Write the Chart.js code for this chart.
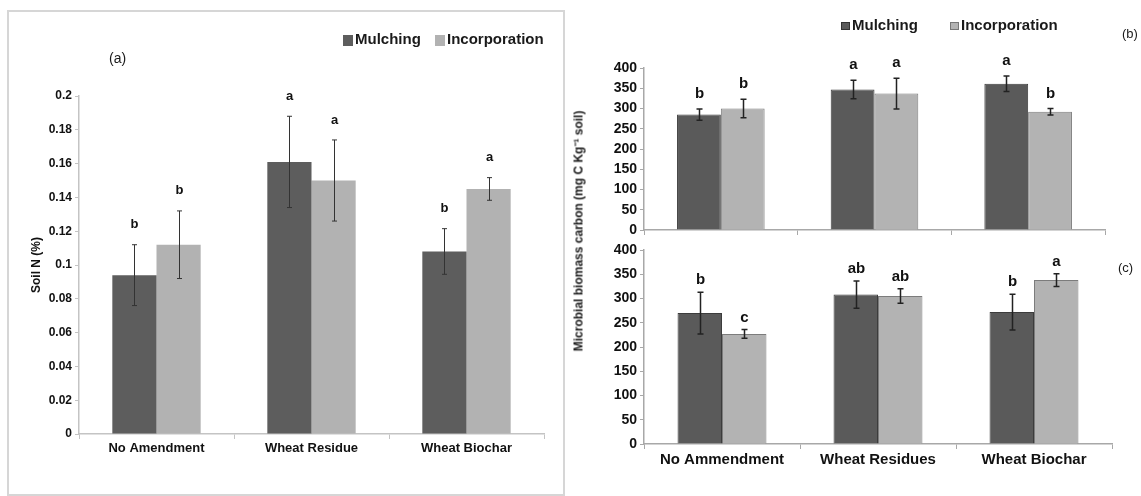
<!DOCTYPE html>
<html lang="en">
<head>
<meta charset="UTF-8">
<title>Soil N and microbial biomass carbon</title>
<script src="https://cdn.jsdelivr.net/npm/chart.js"></script>
<style>
  body { margin: 0; background: #fff; }
  #page { position: relative; width: 1141px; height: 496px; overflow: hidden; }
  #page canvas { position: absolute; left: 0; top: 0; }
  .box { position: absolute; left: 7px; top: 10px; width: 558px; height: 486px; border: 2px solid #d6d6d6; box-sizing: border-box; }
  .lbl { position: absolute; white-space: nowrap; color: #1a1a1a; }
  .narrow { font-family: "Liberation Sans Narrow", "Arial Narrow", "Liberation Sans", sans-serif; }
  .wide { font-family: "Liberation Sans", Arial, sans-serif; font-weight: bold; }
  .sq { display: inline-block; vertical-align: middle; }
</style>
</head>
<body>
<div id="page">
  <div class="box"></div>
  <canvas id="chartA" width="1141" height="496"></canvas>
  <canvas id="chartB" width="1141" height="496"></canvas>
  <canvas id="chartC" width="1141" height="496"></canvas>

  <!-- legends and panel tags -->
  <div class="lbl narrow" style="left:343px; top:30px; font-size:15px; font-weight:bold;">
    <span class="sq" style="width:10px;height:11px;background:#5d5d5d;margin-right:2px;"></span>Mulching
    <span class="sq" style="width:10px;height:11px;background:#b2b2b2;margin:0 2px 0 10px;"></span>Incorporation
  </div>
  <div class="lbl narrow" style="left:109px; top:50px; font-size:14px;">(a)</div>

  <div class="lbl wide" style="left:841px; top:16px; font-size:15px;">
    <span class="sq" style="width:7px;height:6px;background:#5a5a5a;border:1px solid #333;margin-right:2px;"></span>Mulching
    <span class="sq" style="width:7px;height:6px;background:#b3b3b3;border:1px solid #777;margin:0 2px 0 28px;"></span>Incorporation
  </div>
  <div class="lbl" style="left:1122px; top:26px; font-size:13px; font-family:'Liberation Sans', sans-serif;">(b)</div>
  <div class="lbl" style="left:1118px; top:260px; font-size:13px; font-family:'Liberation Sans', sans-serif;">(c)</div>

  <div class="lbl wide" style="left:578px; top:231px; font-size:12px; transform:translate(-50%,-50%) rotate(-90deg);">Microbial biomass carbon (mg C Kg⁻¹ soil)</div>
</div>

<script>
// panel (a): soil N
const categoriesA = ["No Amendment", "Wheat Residue", "Wheat Biochar"];
const soilNMulching = [0.094, 0.161, 0.108];
const soilNIncorporation = [0.112, 0.150, 0.145];
const soilNMulchingErr = [0.018, 0.027, 0.0135];
const soilNIncorporationErr = [0.020, 0.024, 0.0067];
const soilNMulchingLetters = ["b", "a", "b"];
const soilNIncorporationLetters = ["b", "a", "a"];

// panels (b) and (c): microbial biomass carbon
const categoriesBC = ["No Ammendment", "Wheat Residues", "Wheat Biochar"];
const mbcB_Mulching = [285, 347, 361];
const mbcB_Incorporation = [300, 337, 292];
const mbcB_MulchingErr = [14, 23, 19];
const mbcB_IncorporationErr = [23, 38, 8];
const mbcB_MulchingLetters = ["b", "a", "a"];
const mbcB_IncorporationLetters = ["b", "a", "b"];

const mbcC_Mulching = [270, 308, 272];
const mbcC_Incorporation = [227, 305, 338];
const mbcC_MulchingErr = [43, 28, 37];
const mbcC_IncorporationErr = [9, 15, 13];
const mbcC_MulchingLetters = ["b", "ab", "b"];
const mbcC_IncorporationLetters = ["c", "ab", "a"];

const yTicksA = [0, 0.02, 0.04, 0.06, 0.08, 0.1, 0.12, 0.14, 0.16, 0.18, 0.2];
const yTicksBC = [0, 50, 100, 150, 200, 250, 300, 350, 400];

const NARROW = '"Liberation Sans Narrow", "Arial Narrow", "Liberation Sans", sans-serif';
const SANS = '"Liberation Sans", Arial, sans-serif';

// draws the error bars and the letters over each bar
const errorBars = {
  id: "errorBars",
  afterDatasetsDraw(chart, args, opts) {
    const ctx = chart.ctx;
    const y = chart.scales.y;
    chart.data.datasets.forEach((ds, di) => {
      const meta = chart.getDatasetMeta(di);
      meta.data.forEach((bar, i) => {
        const v = ds.data[i], e = opts.errors[di][i];
        const top = y.getPixelForValue(v + e);
        const bot = y.getPixelForValue(v - e);
        const x = Math.round(bar.x) + 0.5;
        ctx.save();
        ctx.strokeStyle = opts.color;
        ctx.lineWidth = opts.lineWidth;
        ctx.beginPath();
        ctx.moveTo(x, top); ctx.lineTo(x, bot);
        ctx.moveTo(x - opts.cap, top); ctx.lineTo(x + opts.cap, top);
        ctx.moveTo(x - opts.cap, bot); ctx.lineTo(x + opts.cap, bot);
        ctx.stroke();
        ctx.fillStyle = "#111";
        ctx.font = opts.font;
        ctx.textAlign = "center";
        ctx.textBaseline = "middle";
        ctx.fillText(opts.letters[di][i], x, top - opts.offset);
        ctx.restore();
      });
    });
  }
};

function fixWidth(w) { return scale => { scale.width = w; }; }
function fixHeight(h) { return scale => { scale.height = h; }; }

function makeChart(id, cfg) {
  return new Chart(document.getElementById(id), {
    type: "bar",
    data: {
      labels: cfg.labels,
      datasets: [
        { label: "Mulching", data: cfg.m, backgroundColor: cfg.colM, borderColor: cfg.borderM, borderWidth: cfg.bw,
          categoryPercentage: 0.57, barPercentage: 1.0 },
        { label: "Incorporation", data: cfg.i, backgroundColor: cfg.colI, borderColor: cfg.borderI, borderWidth: cfg.bw,
          categoryPercentage: 0.57, barPercentage: 1.0 }
      ]
    },
    options: {
      responsive: false,
      animation: false,
      layout: { padding: cfg.padding },
      plugins: {
        legend: { display: false },
        tooltip: { enabled: false },
        errorBars: cfg.err
      },
      scales: {
        x: {
          afterFit: fixHeight(cfg.xH),
          grid: { drawOnChartArea: false, color: cfg.axisColor, tickLength: 5, offset: true },
          border: { color: cfg.axisColor, width: cfg.axisW },
          ticks: { display: cfg.showX, color: "#111", font: cfg.xFont, padding: 2, maxRotation: 0 }
        },
        y: {
          min: 0, max: cfg.max,
          afterFit: fixWidth(cfg.yW),
          afterBuildTicks: s => { s.ticks = cfg.ticks.map(v => ({ value: v })); },
          grid: { drawOnChartArea: false, color: cfg.axisColor, tickLength: 4 },
          border: { color: cfg.axisColor, width: cfg.axisW },
          ticks: { color: "#111", font: cfg.yFont, padding: 3, callback: v => String(Number(v.toFixed(2))) },
          title: cfg.yTitle
        }
      }
    },
    plugins: [errorBars]
  });
}

makeChart("chartA", {
  labels: categoriesA, m: soilNMulching, i: soilNIncorporation,
  colM: "#5d5d5d", colI: "#b2b2b2", borderM: "#5d5d5d", borderI: "#b2b2b2", bw: 0,
  padding: { left: 29, right: 597, top: 96, bottom: 32 },
  xH: 30, yW: 50, max: 0.2, ticks: yTicksA, axisColor: "#c4c4c4", axisW: 1.5, showX: true,
  xFont: { family: NARROW, size: 13, weight: "bold" },
  yFont: { family: NARROW, size: 12, weight: "bold" },
  yTitle: { display: true, text: "Soil N (%)", color: "#111", font: { family: NARROW, size: 12, weight: "bold" }, padding: 0 },
  err: { errors: [soilNMulchingErr, soilNIncorporationErr], letters: [soilNMulchingLetters, soilNIncorporationLetters],
         color: "#333", lineWidth: 1, cap: 2.5, offset: 20, font: "bold 13px " + NARROW }
});

makeChart("chartB", {
  labels: categoriesBC, m: mbcB_Mulching, i: mbcB_Incorporation,
  colM: "#5a5a5a", colI: "#b3b3b3", borderM: "#3c3c3c", borderI: "#7c7c7c", bw: 1,
  padding: { left: 594, right: 36, top: 68, bottom: 256 },
  xH: 10, yW: 50, max: 400, ticks: yTicksBC, axisColor: "#a8a8a8", axisW: 1.5, showX: false,
  xFont: { family: SANS, size: 15, weight: "bold" },
  yFont: { family: SANS, size: 14, weight: "bold" },
  yTitle: { display: false },
  err: { errors: [mbcB_MulchingErr, mbcB_IncorporationErr], letters: [mbcB_MulchingLetters, mbcB_IncorporationLetters],
         color: "#222", lineWidth: 1.5, cap: 3, offset: 15, font: "bold 15px " + SANS }
});

makeChart("chartC", {
  labels: categoriesBC, m: mbcC_Mulching, i: mbcC_Incorporation,
  colM: "#5a5a5a", colI: "#b3b3b3", borderM: "#3c3c3c", borderI: "#7c7c7c", bw: 1,
  padding: { left: 594, right: 29, top: 250, bottom: 22 },
  xH: 30, yW: 50, max: 400, ticks: yTicksBC, axisColor: "#a8a8a8", axisW: 1.5, showX: true,
  xFont: { family: SANS, size: 15, weight: "bold" },
  yFont: { family: SANS, size: 14, weight: "bold" },
  yTitle: { display: false },
  err: { errors: [mbcC_MulchingErr, mbcC_IncorporationErr], letters: [mbcC_MulchingLetters, mbcC_IncorporationLetters],
         color: "#222", lineWidth: 1.5, cap: 3, offset: 12, font: "bold 15px " + SANS }
});
</script>
</body>
</html>
